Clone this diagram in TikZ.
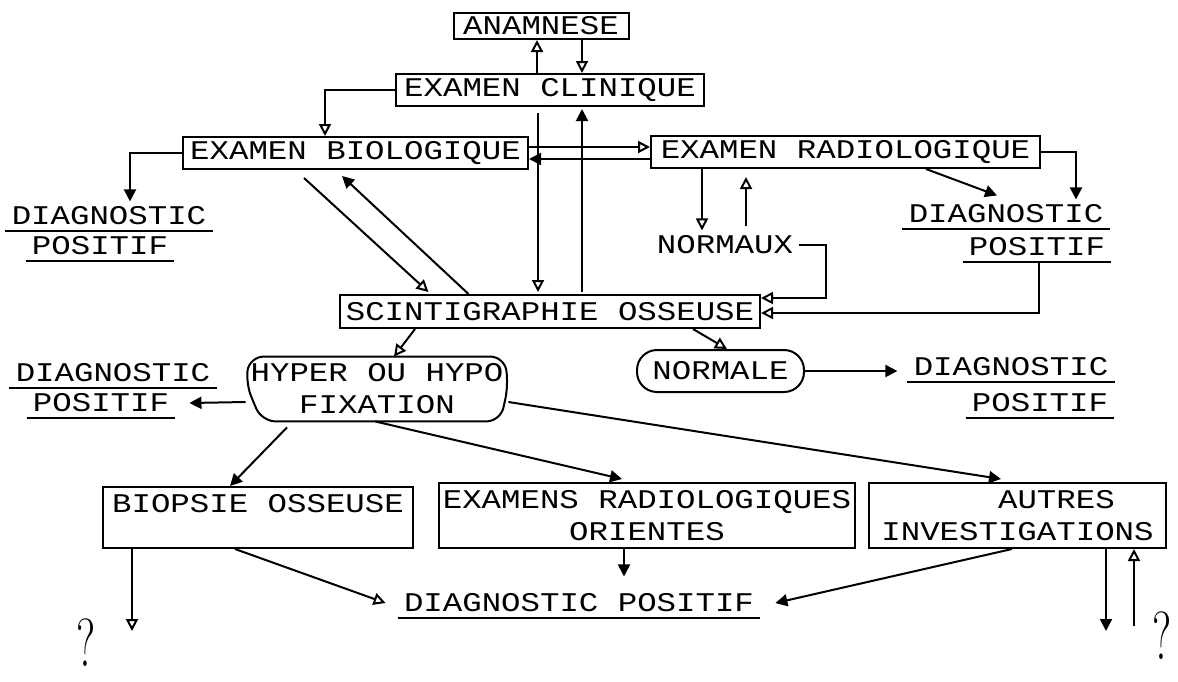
\documentclass[tikz,border=0pt]{standalone}
\usepackage{fontspec}
\usepackage{graphicx}
\usetikzlibrary{arrows.meta,calc}
\newfontfamily\twfam[FakeStretch=1.2]{Liberation Mono}
\newcommand\twf{\twfam\fontsize{13.5}{16}\selectfont}
\begin{document}
\begin{tikzpicture}[x=0.5pt,y=-0.5pt,
  every node/.style={font=\twf},
  box/.style={draw, line width=1pt, inner sep=0pt, align=center},
  lbl/.style={inner xsep=3pt, inner ysep=2.5pt},
  ln/.style={line width=1pt},
  farr/.style={ln, -{Triangle[length=6pt,width=6pt]}},
  oarr/.style={ln, -{Triangle[open,length=6pt,width=6pt]}},
  qm/.style={inner sep=0pt}
]
\useasboundingbox (0,0) rectangle (1178,681);

% boxes and labels
\node[box, minimum width=87.5pt, minimum height=13pt] (ana) at (541,26) {ANAMNESE};
\node[box, minimum width=154pt, minimum height=16pt] (ec) at (550,90) {EXAMEN CLINIQUE};
\node[box, minimum width=172.5pt, minimum height=16pt] (eb) at (355.5,153) {EXAMEN BIOLOGIQUE};
\node[box, minimum width=194.5pt, minimum height=16pt] (er) at (845.5,152) {EXAMEN RADIOLOGIQUE};
\node[lbl] (dl1) at (109,216) {DIAGNOSTIC};
\node[lbl] (pl1) at (100,246) {POSITIF};
\node[lbl] (dr1) at (1006,214) {DIAGNOSTIC};
\node[lbl] (pr1) at (1037,247) {POSITIF};
\node[lbl] (nx) at (725,245) {NORMAUX};
\node[box, minimum width=210pt, minimum height=16.5pt] (sc) at (550,311.5) {SCINTIGRAPHIE OSSEUSE};
\node[minimum width=131pt, minimum height=32pt, inner sep=0pt, align=center] (hy) at (377,389) {HYPER OU HYPO\\FIXATION};
\node[lbl] (dl2) at (113,373) {DIAGNOSTIC};
\node[lbl] (pl2) at (101,403) {POSITIF};
\node[box, rounded corners=10pt, minimum width=83.5pt, minimum height=21pt] (nm) at (720.5,371) {NORMALE};
\node[lbl] (dr2) at (1011,367) {DIAGNOSTIC};
\node[lbl] (pr2) at (1040,403) {POSITIF};
\node[box, minimum width=155pt, minimum height=30.5pt, text depth=14.5pt] (bio) at (258,517.5) {BIOPSIE OSSEUSE};
\node[box, minimum width=208pt, minimum height=32.5pt] (exr) at (647,515.5) {EXAMENS RADIOLOGIQUES\\ORIENTES};
\node[box, minimum width=148.5pt, minimum height=32.5pt, align=left] (aut) at (1017.5,515.5) {\hphantom{INVEST}AUTRES\\INVESTIGATIONS};
\node[lbl] (dpb) at (579,603) {DIAGNOSTIC POSITIF};
\node[qm] (q1) at (86,643) {\scalebox{0.65}[1]{\normalfont\fontsize{34}{34}\selectfont ?}};
\node[qm] (q2) at (1162,636) {\scalebox{0.65}[1]{\normalfont\fontsize{34}{34}\selectfont ?}};

% underlines
\foreach \n in {dl1,pl1,dr1,pr1,dl2,pl2,dr2,pr2,dpb}
  \draw[ln] (\n.south west) -- (\n.south east);

% hyper/hypo outline
\draw[ln, rounded corners=7pt] ($(hy.north west)+(4,0)$) -- ($(hy.north east)+(-4,0)$)
  -- ($(hy.east)+(0,-4)$) -- ($(hy.south east)+(-8,0)$) -- ($(hy.south west)+(16,0)$)
  -- ($(hy.west)+(0,-6)$) -- cycle;

% connectors
\draw[oarr] ($(ec.north)+(-13,0)$) -- ($(ana.south)+(-4,0)$);
\draw[oarr] ($(ana.south)+(41,0)$) -- ($(ec.north)+(32,0)$);
\draw[oarr] (ec.west) -| ($(eb.north)+(-30.5,0)$);
\draw[farr] (eb.west) -| ($(dl1.north)+(21,0)$);
\draw[oarr] ($(eb.east)+(0,-6)$) -- ($(er.west)+(0,-5)$);
\draw[farr] ($(er.west)+(0,7)$) -- ($(eb.east)+(0,6)$);
\draw[oarr] ($(eb.south)+(-51.5,8)$) -- ($(sc.north)+(-121.5,-2)$);
\draw[farr] ($(sc.north)+(-81.5,0)$) -- ($(eb.south)+(-13.5,6)$);
\draw[oarr] ($(ec.south)+(-12,6)$) -- ($(sc.north)+(-12,-2)$);
\draw[farr] ($(sc.north)+(32,-2)$) -- ($(ec.south)+(32,2)$);
\draw[oarr] ($(er.south)+(-143.5,0)$) -- ($(nx.north)+(-23,0)$);
\draw[oarr] ($(nx.north)+(21,-4)$) -- ($(er.south)+(-99.5,8)$);
\draw[oarr] (nx.east) -| ($(sc.east)+(65,-13.5)$) -- ($(sc.east)+(0,-13.5)$);
\draw[farr] (er.east) -| ($(dr1.north)+(70,0)$);
\draw[farr] ($(er.south)+(80.5,0)$) -- ($(dr1.north)+(-9,-4)$);
\draw[oarr] ($(pr1.south)+(2,0)$) |- ($(sc.east)+(0,1.5)$);
\draw[oarr] ($(sc.south)+(-135,0)$) -- ($(hy.north)+(17,0)$);
\draw[oarr] ($(sc.south)+(143,0)$) -- ($(nm.north)+(6.5,0)$);
\draw[farr] (nm.east) -- ($(nm.east -| dr2.west)+(-10,0)$);
\draw[farr] ($(hy.west)+(0,13)$) -- ($(pl2.east)+(14,0)$);
\draw[farr] ($(hy.south)+(-90,6)$) -- ($(bio.north)+(-28,0)$);
\draw[farr] ($(hy.south)+(-2,0)$) -- ($(exr.north)+(-25,-3)$);
\draw[farr] ($(hy.east)+(0,13)$) -- ($(aut.north)+(-16.5,-3)$);
\coordinate (bq) at ($(bio.south)+(-126,82)$);
\draw[oarr] ($(bio.south)+(-126,0)$) -- (bq);
\draw[oarr] ($(bio.south)+(-23,0)$) -- ($(dpb.west)+(-12,0)$);
\coordinate (ex1) at ($(exr.south)+(-23,0)$);
\draw[farr] (ex1) -- ([yshift=6pt]ex1 |- dpb.north);
\draw[farr] ($(aut.south)+(-5.5,0)$) -- ($(dpb.east)+(15,0)$);
\coordinate (ad) at ($(aut.south)+(88.5,82)$);
\draw[farr] ($(aut.south)+(88.5,0)$) -- (ad);
\coordinate (au) at ($(aut.south)+(116.5,77)$);
\draw[oarr] (au) -- ($(aut.south)+(116.5,0)$);
\end{tikzpicture}
\end{document}
